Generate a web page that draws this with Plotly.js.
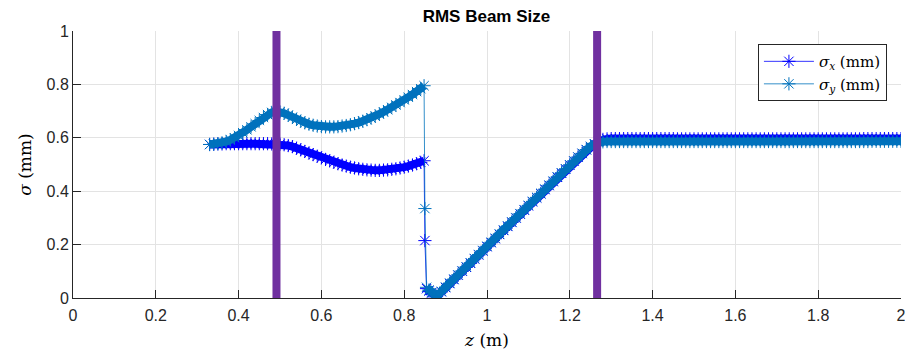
<!DOCTYPE html>
<html>
<head>
<meta charset="utf-8">
<script src="https://cdn.plot.ly/plotly-3.0.1.min.js"></script>
<style>html,body{margin:0;padding:0;background:#fff;}#chart{width:905px;height:354px;}</style>
</head>
<body>
<div id="chart"></div>
<script>
// z positions (m)
const zPos = [
0.33,0.34,0.35,0.36,0.37,0.38,0.39,0.40,0.41,0.42,
0.43,0.44,0.45,0.46,0.47,0.48,0.49,0.50,0.51,0.52,
0.53,0.54,0.55,0.56,0.57,0.58,0.59,0.60,0.61,0.62,
0.63,0.64,0.65,0.66,0.67,0.68,0.69,0.70,0.71,0.72,
0.73,0.74,0.75,0.76,0.77,0.78,0.79,0.80,0.81,0.82,
0.83,0.84,
0.848,0.850,0.854,0.860,0.866,0.872,0.878,
0.89,0.90,0.91,0.92,0.93,0.94,0.95,0.96,0.97,0.98,
0.99,1.00,1.01,1.02,1.03,1.04,1.05,1.06,1.07,1.08,
1.09,1.10,1.11,1.12,1.13,1.14,1.15,1.16,1.17,1.18,
1.19,1.20,1.21,1.22,1.23,1.24,1.25,1.26,
1.27,1.28,1.29,1.30,1.31,1.32,1.33,1.34,1.35,1.36,
1.37,1.38,1.39,1.40,1.41,1.42,1.43,1.44,1.45,1.46,
1.47,1.48,1.49,1.50,1.51,1.52,1.53,1.54,1.55,1.56,
1.57,1.58,1.59,1.60,1.61,1.62,1.63,1.64,1.65,1.66,
1.67,1.68,1.69,1.70,1.71,1.72,1.73,1.74,1.75,1.76,
1.77,1.78,1.79,1.80,1.81,1.82,1.83,1.84,1.85,1.86,
1.87,1.88,1.89,1.90,1.91,1.92,1.93,1.94,1.95,1.96,
1.97,1.98,1.99,2.00
];
// sigma_x (mm)
const sigmaX = [
0.575,0.576,0.577,0.577,0.578,0.578,0.578,0.578,0.578,0.578,
0.578,0.578,0.578,0.578,0.578,0.577,0.577,0.576,0.574,0.571,
0.567,0.561,0.555,0.549,0.543,0.537,0.531,0.525,0.519,0.514,
0.508,0.503,0.498,0.494,0.490,0.487,0.484,0.482,0.480,0.479,
0.478,0.478,0.479,0.480,0.482,0.484,0.487,0.490,0.494,0.498,
0.503,0.508,
0.514,0.215,0.035,0.026,0.018,0.011,0.005,
0.023,0.039,0.054,0.069,0.085,0.100,0.115,0.130,0.146,0.161,
0.176,0.192,0.207,0.222,0.238,0.253,0.268,0.283,0.299,0.314,
0.329,0.345,0.360,0.375,0.390,0.406,0.421,0.436,0.452,0.467,
0.482,0.497,0.512,0.527,0.541,0.555,0.567,0.577,
0.588,0.594,0.596,0.597,0.597,0.597,0.597,0.597,0.597,0.597,
0.597,0.597,0.597,0.597,0.597,0.597,0.597,0.597,0.597,0.596,
0.596,0.596,0.596,0.596,0.596,0.596,0.596,0.596,0.596,0.596,
0.596,0.596,0.596,0.596,0.596,0.596,0.596,0.596,0.596,0.596,
0.596,0.596,0.596,0.596,0.596,0.596,0.596,0.596,0.596,0.596,
0.596,0.596,0.596,0.596,0.596,0.596,0.596,0.596,0.596,0.596,
0.596,0.596,0.596,0.596,0.597,0.597,0.597,0.597,0.597,0.597,
0.597,0.597,0.597,0.597
];
// sigma_y (mm)
const sigmaY = [
0.575,0.576,0.578,0.581,0.586,0.592,0.600,0.609,0.619,0.630,
0.641,0.653,0.665,0.676,0.687,0.695,0.699,0.697,0.692,0.685,
0.677,0.669,0.662,0.656,0.651,0.647,0.644,0.642,0.641,0.641,
0.641,0.642,0.644,0.646,0.649,0.653,0.657,0.662,0.668,0.674,
0.681,0.689,0.697,0.705,0.714,0.723,0.732,0.742,0.752,0.762,
0.773,0.784,
0.795,0.335,0.040,0.030,0.021,0.013,0.007,
0.025,0.041,0.056,0.071,0.087,0.102,0.117,0.132,0.148,0.163,
0.178,0.194,0.209,0.224,0.240,0.255,0.270,0.285,0.301,0.316,
0.331,0.347,0.362,0.377,0.392,0.408,0.423,0.438,0.454,0.469,
0.484,0.499,0.514,0.528,0.542,0.556,0.568,0.577,
0.583,0.585,0.586,0.586,0.586,0.586,0.586,0.586,0.586,0.586,
0.586,0.586,0.586,0.586,0.586,0.586,0.586,0.586,0.586,0.586,
0.586,0.586,0.586,0.586,0.586,0.586,0.586,0.586,0.586,0.586,
0.586,0.586,0.586,0.586,0.586,0.586,0.586,0.586,0.586,0.586,
0.586,0.586,0.586,0.586,0.586,0.586,0.586,0.586,0.586,0.586,
0.586,0.586,0.586,0.586,0.586,0.586,0.586,0.586,0.586,0.586,
0.586,0.586,0.586,0.586,0.586,0.586,0.587,0.587,0.587,0.587,
0.587,0.587,0.587,0.587
];
// index of the single mid-jump sample (z = 0.850)
const jumpIndex = 53;
// element positions (vertical markers)
const elementZ = [0.4915, 1.266];
const elementY = [0, 1];
const xTicks = [0,0.2,0.4,0.6,0.8,1,1.2,1.4,1.6,1.8,2];
const xTickText = ['0','0.2','0.4','0.6','0.8','1','1.2','1.4','1.6','1.8','2'];
const yTicks = [0,0.2,0.4,0.6,0.8,1];
const yTickText = ['0','0.2','0.4','0.6','0.8','1'];

function bandOf(arr){ return arr.map(function(v,i){ return i === jumpIndex ? null : v; }); }

const colX = '#0000FF', colY = '#0072BD';
const traces = [
  // dense-sample bands (the overlapping markers form a solid band)
  {x: zPos, y: bandOf(sigmaX), type: 'scatter', mode: 'lines', showlegend: false, hoverinfo: 'skip', connectgaps: false,
   line: {color: colX, width: 8}},
  {x: zPos, y: sigmaX, type: 'scatter', mode: 'lines+markers', name: '<i>σ</i><sub><i>x</i></sub> (mm)',
   line: {color: colX, width: 0.8},
   marker: {symbol: 'asterisk-open', size: 11, color: colX, line: {color: colX, width: 1}}},
  {x: zPos, y: bandOf(sigmaY), type: 'scatter', mode: 'lines', showlegend: false, hoverinfo: 'skip', connectgaps: false,
   line: {color: colY, width: 8}},
  {x: zPos, y: sigmaY, type: 'scatter', mode: 'lines+markers', name: '<i>σ</i><sub><i>y</i></sub> (mm)',
   line: {color: colY, width: 0.8},
   marker: {symbol: 'asterisk-open', size: 11, color: colY, line: {color: colY, width: 1}}}
];
elementZ.forEach(function(zz){
  traces.push({x: [zz, zz], y: elementY, type: 'scatter', mode: 'lines', showlegend: false, hoverinfo: 'skip',
    line: {color: '#7030A0', width: 8}});
});

const axisFont = {family: 'Liberation Sans, Arial, sans-serif', size: 16, color: '#262626'};
const layout = {
  width: 905, height: 354,
  margin: {l: 73, r: 4, t: 31, b: 56},
  paper_bgcolor: '#ffffff', plot_bgcolor: '#ffffff',
  title: {text: '<b>RMS Beam Size</b>', font: {family: 'Liberation Sans, Arial, sans-serif', size: 17, color: '#000000'},
          x: 0.5375, xanchor: 'center', y: 0.955, yanchor: 'middle'},
  showlegend: true,
  legend: {x: 0.983, y: 0.951, xanchor: 'right', yanchor: 'top', bgcolor: '#ffffff', bordercolor: '#262626', borderwidth: 1,
           font: {family: 'DejaVu Serif, Liberation Serif, serif', size: 15, color: '#000000'}, itemwidth: 50,
           tracegroupgap: 0},
  xaxis: {range: [0, 2], tickvals: xTicks, ticktext: xTickText, ticks: 'inside', ticklen: 8, tickcolor: '#262626',
          ticklabeloverflow: 'allow', ticklabelstandoff: 3,
          showline: true, linecolor: '#262626', linewidth: 1, mirror: false, zeroline: false,
          showgrid: true, gridcolor: '#e3e3e3', gridwidth: 1, tickfont: axisFont, fixedrange: true,
          title: {text: '<i>z</i> (m)', font: {family: 'DejaVu Serif, Liberation Serif, serif', size: 17, color: '#000000'}, standoff: 10}},
  yaxis: {range: [0, 1], tickvals: yTicks, ticktext: yTickText, ticks: 'inside', ticklen: 8, tickcolor: '#262626',
          showline: true, linecolor: '#262626', linewidth: 1, mirror: false, zeroline: false,
          showgrid: true, gridcolor: '#e3e3e3', gridwidth: 1, tickfont: axisFont, fixedrange: true,
          title: {text: '<i>σ</i> (mm)', font: {family: 'DejaVu Serif, Liberation Serif, serif', size: 17, color: '#000000'}, standoff: 10}}
};
Plotly.newPlot('chart', traces, layout, {staticPlot: true, displayModeBar: false});
</script>
</body>
</html>
